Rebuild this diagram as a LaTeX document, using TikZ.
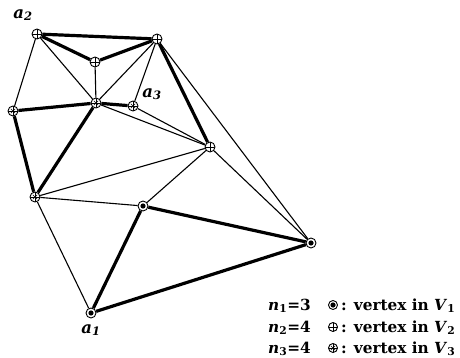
\documentclass[tikz,border=0pt]{standalone}
\usepackage{fontspec}
\newfontfamily\legfont{DejaVu Serif}
\newcommand{\sbs}[1]{\textsubscript{#1}}
\begin{document}
\begin{tikzpicture}[x=1pt,y=-1pt,
  vtx/.style={circle,draw,line width=0.9pt,fill=white,minimum size=10pt,inner sep=0pt},
  vone/.style={vtx,path picture={\fill[black] (path picture bounding box.center) circle (2.6pt);}},
  vtwo/.style={vtx,path picture={
     \draw[black,line width=0.8pt] (path picture bounding box.north) -- (path picture bounding box.south)
       (path picture bounding box.west) -- (path picture bounding box.east);}},
  vthree/.style={vtx,path picture={
     \draw[black,line width=0.8pt] (path picture bounding box.north) -- (path picture bounding box.south)
       (path picture bounding box.west) -- (path picture bounding box.east);
     \draw[black,line width=0.6pt] ([shift={(-2.2pt,-2.2pt)}]path picture bounding box.center) -- ([shift={(2.2pt,2.2pt)}]path picture bounding box.center)
       ([shift={(-2.2pt,2.2pt)}]path picture bounding box.center) -- ([shift={(2.2pt,-2.2pt)}]path picture bounding box.center);}},
  thin/.style={line width=1.1pt},
  thick/.style={line width=3.2pt},
  lab/.style={font=\legfont\fontsize{16.5}{18}\selectfont\bfseries\itshape},
  leg/.style={font=\legfont\fontsize{15.3}{17}\selectfont\bfseries,inner sep=0pt,anchor=base west}
]
\useasboundingbox (0,0) rectangle (460,358);
% vertices
\node[vtwo] (a2) at (37,34) {};
\node[vtwo] (T) at (157,39) {};
\node[vtwo] (M1) at (95,62) {};
\node[vtwo] (R1) at (210,147) {};
\node[vthree] (L) at (13,111) {};
\node[vthree] (C) at (96,103) {};
\node[vthree] (a3) at (133,106) {};
\node[vthree] (LL) at (35,197) {};
\node[vone] (M2) at (143,206) {};
\node[vone] (R2) at (311,243) {};
\node[vone] (a1) at (91,313) {};
% thin edges
\draw[thin] (a2) -- (L);
\draw[thin] (a2) -- (C);
\draw[thin] (M1) -- (C);
\draw[thin] (T) -- (C);
\draw[thin] (T) -- (a3);
\draw[thin] (T) -- (R2);
\draw[thin] (C) -- (R1);
\draw[thin] (a3) -- (R1);
\draw[thin] (LL) -- (R1);
\draw[thin] (R1) -- (M2);
\draw[thin] (R1) -- (R2);
\draw[thin] (LL) -- (M2);
\draw[thin] (LL) -- (a1);
% thick edges
\draw[thick] (a2) -- (T);
\draw[thick] (a2) -- (M1);
\draw[thick] (M1) -- (T);
\draw[thick] (T) -- (R1);
\draw[thick] (L) -- (C);
\draw[thick] (C) -- (a3);
\draw[thick] (L) -- (LL);
\draw[thick] (C) -- (LL);
\draw[thick] (a1) -- (M2);
\draw[thick] (M2) -- (R2);
\draw[thick] (a1) -- (R2);
% labels
\node[lab] (la2) at (23,15) {a\sbs{2}};
\node[lab] (la3) at (152,94) {a\sbs{3}};
\node[lab] (la1) at (91,330) {a\sbs{1}};
% legend
\node[leg] (n1) at (268,310) {\itshape n\sbs{\upshape 1}\upshape=3};
\node[leg] (n2) at (268,332) {\itshape n\sbs{\upshape 2}\upshape=4};
\node[leg] (n3) at (268,353) {\itshape n\sbs{\upshape 3}\upshape=4};
\node[vone,minimum size=9pt] (s1) at (333,305) {};
\node[vtwo,minimum size=9pt] (s2) at (333,327) {};
\node[vthree,minimum size=9pt] (s3) at (333,348) {};
\node[leg] (t1) at (341,310) {: vertex in \textit{V}\sbs{1}};
\node[leg] (t2) at (341,332) {: vertex in \textit{V}\sbs{2}};
\node[leg] (t3) at (341,353) {: vertex in \textit{V}\sbs{3}};
\end{tikzpicture}
\end{document}
